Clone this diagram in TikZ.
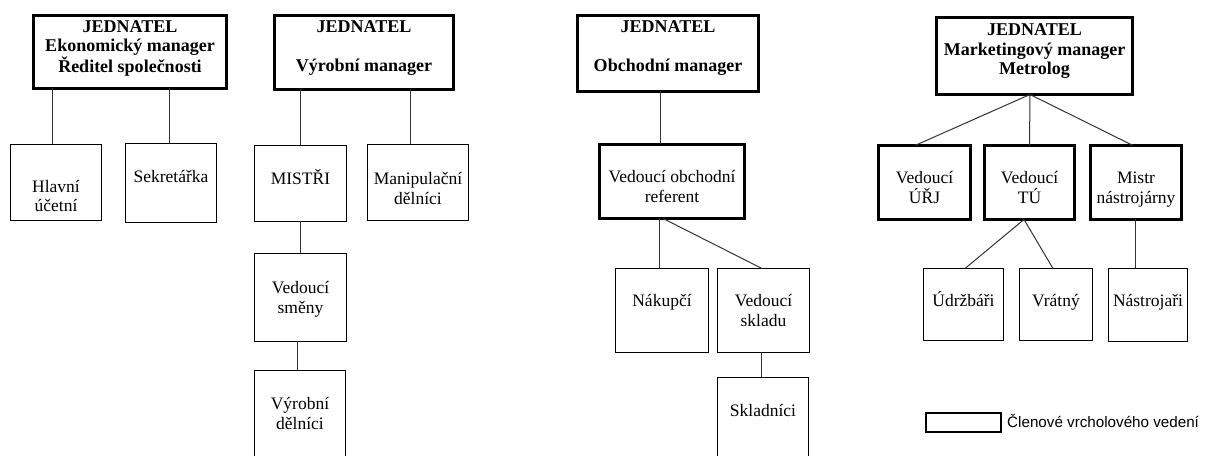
\documentclass[tikz,border=0pt]{standalone}
\usepackage{fontspec}
\setmainfont{Liberation Serif}
\newfontfamily\legendfont{Liberation Sans}
\newcommand\orgtxt[4]{\parbox[c][#2bp][t]{#1bp}{\centering\rule{0pt}{#3bp}#4\par}}
\tikzset{
  thinbox/.style={draw=black, line width=1bp, inner sep=0pt, outer sep=0pt, fill=white,
    font=\fontsize{17.5bp}{19.5bp}\selectfont},
  thickbox/.style={thinbox, line width=3bp},
  headbox/.style={thickbox, font=\fontsize{18bp}{19.5bp}\selectfont\bfseries},
  conn/.style={draw=black!80, line width=1bp},
}
\begin{document}
\begin{tikzpicture}[x=1bp, y=-1bp]
\useasboundingbox (0,0) rectangle (1206,456);
\clip (0,0) rectangle (1206,456);
\fill[white] (0,0) rectangle (1206,456);

% ---- Group 1
\node[headbox] (A1) at (130,52) {\orgtxt{193}{73}{17}{JEDNATEL\\Ekonomický manager\\Ředitel společnosti}};
\node[thinbox] (hlavni) at (56,182.5) {\orgtxt{91}{76}{48}{Hlavní\\účetní}};
\node[thinbox] (sekr) at (171,183) {\orgtxt{91}{79}{39.5}{Sekretářka}};

% ---- Group 2
\node[headbox] (A2) at (364,52.5) {\orgtxt{179}{74}{17.5}{JEDNATEL\\\mbox{}\\Výrobní manager}};
\node[thinbox] (mistri) at (300.5,183.5) {\orgtxt{92}{76}{39.5}{MISTŘI}};
\node[thinbox] (manip) at (418,182.5) {\orgtxt{101}{76}{40.5}{Manipulační\\dělníci}};
\node[thinbox] (smeny) at (300.5,297.5) {\orgtxt{92}{88}{40.5}{Vedoucí\\směny}};
\node[thinbox] (vyrdel) at (300,415) {\orgtxt{91}{89}{39.5}{Výrobní\\dělníci}};

% ---- Group 3
\node[headbox] (obch) at (668,53.5) {\orgtxt{181}{76}{17.5}{JEDNATEL\\\mbox{}\\Obchodní manager}};
\node[thickbox] (refer) at (672,181.5) {\orgtxt{145}{74}{38.5}{Vedoucí obchodní\\referent}};
\node[thinbox] (nakup) at (662,310.5) {\orgtxt{93}{84}{38.5}{Nákupčí}};
\node[thinbox] (sklad) at (763.5,310.5) {\orgtxt{92}{84}{38.5}{Vedoucí\\skladu}};
\node[thinbox] (skladnici) at (763,419.5) {\orgtxt{91}{84}{39.5}{Skladníci}};

% ---- Group 4
\node[headbox] (mkt) at (1034.5,56) {\orgtxt{196}{77}{18.5}{JEDNATEL\\Marketingový manager\\Metrolog}};
\node[thickbox] (urj) at (924.5,182.5) {\orgtxt{92}{74}{38.5}{Vedoucí\\ÚŘJ}};
\node[thickbox] (tu) at (1029.5,182.5) {\orgtxt{90}{74}{38.5}{Vedoucí\\TÚ}};
\node[thickbox] (mistr) at (1136,182.5) {\orgtxt{91}{74}{38.5}{Mistr\\nástrojárny}};
\node[thinbox] (udrz) at (963.5,304.5) {\orgtxt{80}{72}{38.5}{Údržbáři}};
\node[thinbox] (vratny) at (1056,304.5) {\orgtxt{73}{72}{38.5}{Vrátný}};
\node[thinbox] (nastroj) at (1148,305) {\orgtxt{79}{73}{38.5}{Nástrojaři}};

% ---- Legend
\node[draw=black, line width=2bp, minimum width=75bp, minimum height=19bp, inner sep=0pt] (legbox) at (963.5,422.5) {};
\node[anchor=base west, inner sep=0pt, font=\legendfont\fontsize{15.2bp}{17bp}\selectfont] (legtext) at (1007,428) {Členové vrcholového vedení};

% ---- Connectors
\draw[conn] ([xshift=-4bp]hlavni.north) -- ([xshift=-4bp]hlavni.north |- A1.south);
\draw[conn] ([xshift=-2bp]sekr.north) -- ([xshift=-2bp]sekr.north |- A1.south);
\draw[conn] (mistri.north) -- (mistri.north |- A2.south);
\draw[conn] ([xshift=-8bp]manip.north) -- ([xshift=-8bp]manip.north |- A2.south);
\draw[conn] (smeny.north) -- (smeny.north |- mistri.south);
\draw[conn] ([xshift=-3bp]vyrdel.north) -- ([xshift=-3bp]vyrdel.north |- smeny.south);

\draw[conn] ([xshift=-12bp]refer.north) -- ([xshift=-12bp]refer.north |- obch.south);
\draw[conn] ([xshift=-3bp]nakup.north) -- ([xshift=-3bp]nakup.north |- refer.south);
\draw[conn] ([xshift=-9bp]refer.south) -- ([xshift=-1.5bp]sklad.north);
\draw[conn] ([xshift=-2bp]skladnici.north) -- ([xshift=-2bp]skladnici.north |- sklad.south);

\draw[conn] ([xshift=-4.5bp]mkt.south) -- ([xshift=-9.5bp]urj.north);
\draw[conn] ([xshift=-4.5bp]mkt.south) -- (tu.north);
\draw[conn] ([xshift=-4.5bp]mkt.south) -- ([xshift=-3bp]mistr.north);
\draw[conn] ([xshift=-5.5bp]tu.south) -- ([xshift=1.5bp]udrz.north);
\draw[conn] ([xshift=-5.5bp]tu.south) -- ([xshift=-3bp]vratny.north);
\draw[conn] ([xshift=-1bp]mistr.south) -- ([xshift=-1bp]mistr.south |- nastroj.north);
\end{tikzpicture}
\end{document}
